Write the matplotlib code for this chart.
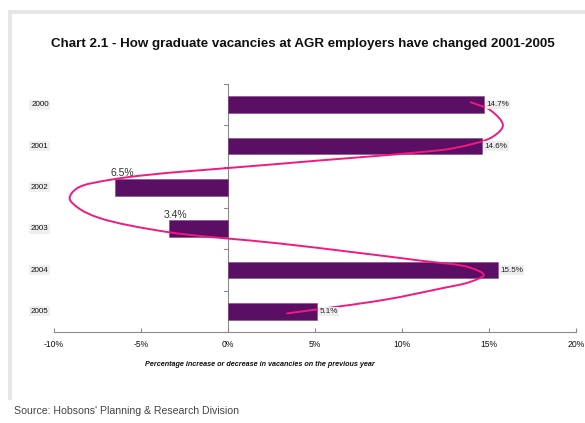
import numpy as np
import matplotlib.pyplot as plt
from matplotlib.path import Path
from matplotlib.patches import PathPatch, Rectangle

plt.rcParams['font.family'] = ['Liberation Sans', 'DejaVu Sans']

# Annual change in graduate vacancies
years = ['2000', '2001', '2002', '2003', '2004', '2005']
change = [14.7, 14.6, -6.5, -3.4, 15.5, 5.1]

# Hand-drawn trend ribbon: x in percent, y in category units
trend_x = [13.95, 15.1, 15.8, 15.2, 13.0, 11.0, 3.0, -6.5,
           -8.7, -9.1, -8.6, -7.4, -3.5, 3.0, 11.0, 13.9, 14.7,
           13.9, 12.2, 9.0, 3.4]
trend_y = [-0.06, 0.14, 0.50, 0.78, 1.05, 1.15, 1.43, 1.80,
           2.03, 2.27, 2.50, 2.74, 3.08, 3.36, 3.77, 3.94, 4.12,
           4.29, 4.45, 4.72, 5.05]

xticks = [-10, -5, 0, 5, 10, 15, 20]

bar_color = '#5b0f64'
line_color = '#f2197f'
axis_gray = '#8c8c8c'


def smooth_path(xs, ys, sx=17.4, sy=41.4, alpha=0.5):
    # centripetal Catmull-Rom as Bezier segments; knots measured in
    # roughly screen-proportional units so the curve bends evenly
    pts = np.column_stack([np.asarray(xs) * sx, np.asarray(ys) * sy])
    ext = np.vstack([2 * pts[0] - pts[1], pts, 2 * pts[-1] - pts[-2]])
    verts = [tuple(pts[0])]
    codes = [Path.MOVETO]
    for i in range(1, len(ext) - 2):
        p0, p1, p2, p3 = ext[i - 1], ext[i], ext[i + 1], ext[i + 2]
        d0 = np.linalg.norm(p1 - p0) ** alpha
        d1 = np.linalg.norm(p2 - p1) ** alpha
        d2 = np.linalg.norm(p3 - p2) ** alpha
        m1 = (p1 - p0) / d0 - (p2 - p0) / (d0 + d1) + (p2 - p1) / d1
        m2 = (p2 - p1) / d1 - (p3 - p1) / (d1 + d2) + (p3 - p2) / d2
        c1 = p1 + m1 * d1 / 3.0
        c2 = p2 - m2 * d1 / 3.0
        verts += [tuple(c1), tuple(c2), tuple(p2)]
        codes += [Path.CURVE4] * 3
    verts = np.array(verts) / np.array([sx, sy])
    return Path(verts, codes)


fig = plt.figure(figsize=(5.85, 4.23), dpi=100)
ax = fig.add_axes([54 / 585, 1 - 332 / 423, (576 - 54) / 585, (332 - 84) / 423])

ypos = np.arange(len(years))
ax.barh(ypos, change, height=0.40, color=bar_color, edgecolor='#7a4a80',
        linewidth=0.4, zorder=2)

ax.add_patch(PathPatch(smooth_path(trend_x, trend_y), facecolor='none',
                       edgecolor=line_color, linewidth=1.4, zorder=3,
                       capstyle='round', joinstyle='round'))

ax.set_xlim(-10, 20)
ax.set_ylim(5.5, -0.5)

for y, v in zip(ypos, change):
    if v >= 0:
        ax.text(v + 0.15, y, f'{v:.1f}%', ha='left', va='center', fontsize=5.8,
                color='#222222', zorder=4,
                bbox=dict(boxstyle='square,pad=0.15', facecolor='#ededed',
                          edgecolor='none'))
    else:
        ax.text(v + 0.4, y - 0.22, f'{abs(v):.1f}%', ha='center', va='bottom',
                fontsize=7.5, color='#333333', zorder=4)

# category labels sit at the far left of the plot
for y, lab in zip(ypos, years):
    ax.text(-0.027, y, lab, transform=ax.get_yaxis_transform(), ha='center',
            va='center', fontsize=5.8, color='#111111',
            bbox=dict(boxstyle='square,pad=0.2', facecolor='#efefef',
                      edgecolor='none'))

for side in ['top', 'right', 'left']:
    ax.spines[side].set_visible(False)
ax.spines['bottom'].set_color(axis_gray)
ax.spines['bottom'].set_linewidth(0.8)

# vertical axis at zero with ticks between categories
ax.axvline(0, color=axis_gray, linewidth=0.8, zorder=1)
for b in np.arange(-0.5, len(years)):
    ax.plot([-0.25, 0], [b, b], color=axis_gray, linewidth=0.8, clip_on=False,
            zorder=1)
ax.set_yticks([])

ax.set_xticks(xticks)
ax.set_xticklabels([f'{t}%' for t in xticks], fontsize=6.2, color='#111111')
ax.tick_params(axis='x', direction='in', length=3, color=axis_gray, pad=6)

fig.text(260 / 585, 1 - 364 / 423,
         'Percentage increase or decrease in vacancies on the previous year',
         ha='center', va='center', fontsize=5.2, fontweight='bold',
         fontstyle='italic', color='#111111')

fig.text(303 / 585, 1 - 44 / 423,
         'Chart 2.1 - How graduate vacancies at AGR employers have changed 2001-2005',
         ha='center', va='center', fontsize=9.6, fontweight='bold', color='#111111')
fig.text(14 / 585, 1 - 411 / 423, "Source: Hobsons' Planning & Research Division",
         ha='left', va='center', fontsize=7.6, color='#444444')

# light frame around the panel
fig.patches.append(Rectangle((8 / 585, 1 - 14 / 423), 1, 4 / 423,
                             transform=fig.transFigure, facecolor='#e6e6e6',
                             edgecolor='none'))
fig.patches.append(Rectangle((8 / 585, 1 - 400 / 423), 4 / 585, 386 / 423,
                             transform=fig.transFigure, facecolor='#e6e6e6',
                             edgecolor='none'))

fig.savefig('out.png', dpi=100)
